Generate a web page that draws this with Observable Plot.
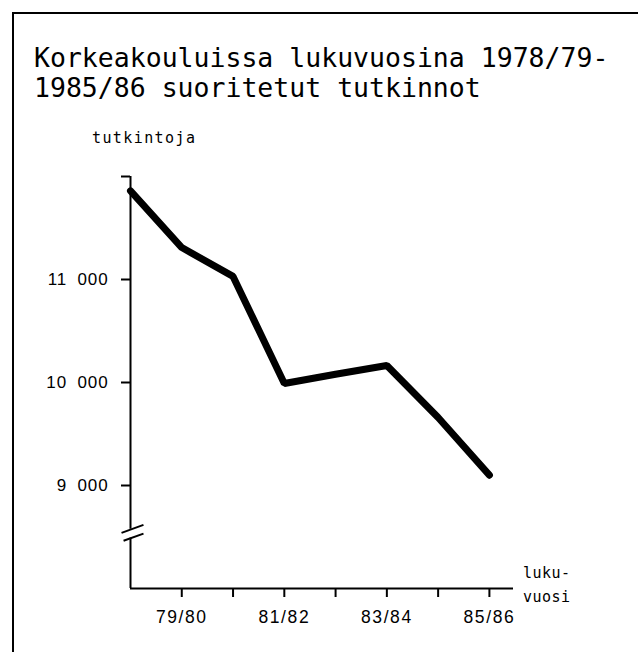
<!DOCTYPE html>
<html>
<head>
<meta charset="utf-8">
<script src="https://cdn.jsdelivr.net/npm/d3@7"></script>
<script src="https://cdn.jsdelivr.net/npm/@observablehq/plot@0.6"></script>
<style>
  html, body { margin: 0; padding: 0; background: #fff; overflow: hidden; }
  body { position: relative; width: 638px; height: 652px; }
  #frame { position: absolute; left: 12px; top: 12px; width: 640px; height: 660px;
           border-left: 2px solid #000; border-top: 2px solid #000; }
  #title { position: absolute; left: 34px; top: 43px; font-family: "DejaVu Sans Mono", monospace;
           font-size: 26.5px; line-height: 30px; color: #000; white-space: pre; }
  #ylab { position: absolute; left: 92px; top: 131px; font-family: "DejaVu Sans Mono", monospace;
          font-size: 15px; line-height: 15px; letter-spacing: 1.4px; color: #000; }
  #xlab { position: absolute; left: 523px; top: 561px; font-family: "DejaVu Sans Mono", monospace;
          font-size: 15px; line-height: 24px; letter-spacing: 0.5px; color: #000; white-space: pre; }
  #chart { position: absolute; left: 0; top: 150px; }
  .yt g[aria-label="y-axis tick label"] text { letter-spacing: 0.9px; }
  .yt g[aria-label="x-axis tick label"] text { letter-spacing: 1.6px; }
</style>
</head>
<body>
<div id="frame"></div>
<div id="title">Korkeakouluissa lukuvuosina 1978/79-
1985/86 suoritetut tutkinnot</div>
<div id="ylab">tutkintoja</div>
<div id="xlab">luku-
vuosi</div>
<div id="chart"></div>
<script>
// Academic years
const years = ["1978/79","1979/80","1980/81","1981/82","1982/83","1983/84","1984/85","1985/86"];
const xTickLabels = ["78/79","79/80","80/81","81/82","82/83","83/84","84/85","85/86"];
// Degrees completed
const degrees = [11860, 11310, 11030, 9990, 10080, 10165, 9660, 9100];
// Y axis ticks
const yTicks = [9000, 10000, 11000, 12000];
const yTickLabels = ["9\u2007000", "10\u2007000", "11\u2007000", ""];
const yDomain = [8000, 12000];
const breakAt = 8535;

const data = years.map((y, i) => ({i, year: y, value: degrees[i]}));
const xMax = years.length - 1 + 0.47;

// axis line split around the break
const axisSegments = [{y1: yDomain[0], y2: breakAt - 45}, {y1: breakAt + 40, y2: yDomain[1]}];
const breakMarks = [
  {x1: -0.175, x2: 0.253, y1: breakAt + 5, y2: breakAt + 83},
  {x1: -0.135, x2: 0.253, y1: breakAt - 72, y2: breakAt - 2}
];

const chart = Plot.plot({
  width: 638,
  height: 502,
  marginTop: 26,
  marginBottom: 64,
  marginLeft: 130,
  marginRight: 125,
  className: "yt",
  style: {fontFamily: "'Liberation Sans', Arial, sans-serif", background: "transparent", color: "#000", overflow: "visible"},
  x: {domain: [0, xMax], axis: null},
  y: {domain: yDomain, axis: null},
  marks: [
    Plot.axisY({ticks: yTicks, tickSize: 9, tickPadding: 13, strokeWidth: 2,
      tickFormat: d => yTickLabels[yTicks.indexOf(d)], label: null, fontSize: 17}),
    Plot.axisX({ticks: d3.range(1, years.length), tickSize: 9, tickPadding: 13, strokeWidth: 2,
      tickFormat: i => (i % 2 ? xTickLabels[i] : ""), label: null, fontSize: 17.5}),
    Plot.ruleX(axisSegments, {x: 0, y1: "y1", y2: "y2", strokeWidth: 2, stroke: "#000"}),
    Plot.ruleY([yDomain[0]], {x1: 0, x2: xMax, strokeWidth: 2, stroke: "#000"}),
    Plot.link(breakMarks, {x1: "x1", x2: "x2", y1: "y1", y2: "y2", strokeWidth: 2, stroke: "#000"}),
    Plot.line(data, {x: "i", y: "value", stroke: "#000", strokeWidth: 7, strokeLinejoin: "miter"})
  ]
});
document.getElementById("chart").appendChild(chart);
</script>
</body>
</html>
